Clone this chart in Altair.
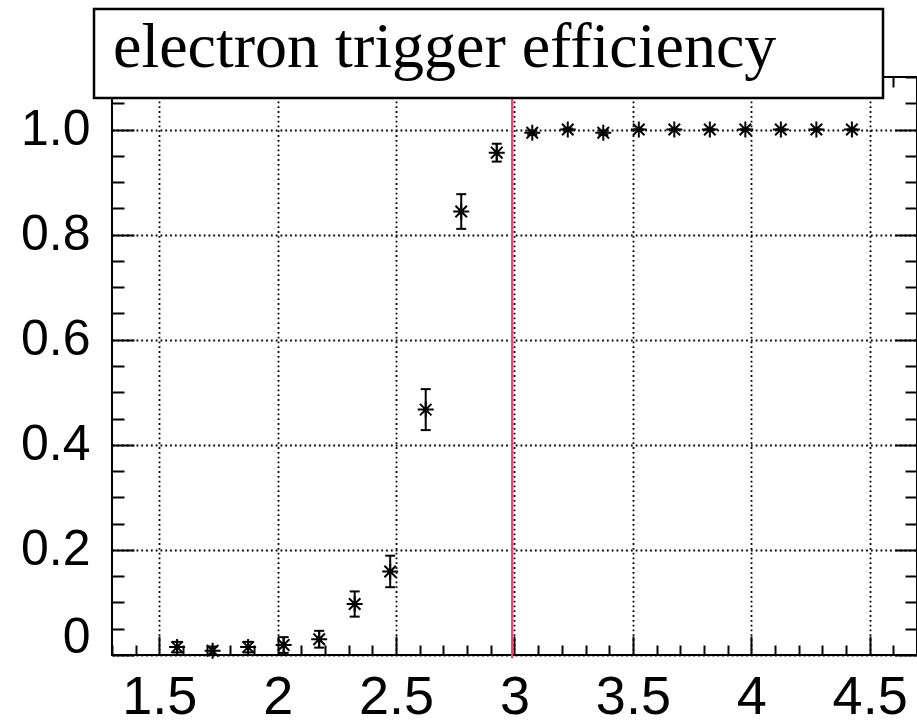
import altair as alt
import pandas as pd

# ---------------- data ----------------
title_text = "electron trigger efficiency"
x_centers = [1.575, 1.725, 1.875, 2.025, 2.175, 2.325, 2.475, 2.625, 2.775, 2.925,
             3.075, 3.225, 3.375, 3.525, 3.675, 3.825, 3.975, 4.125, 4.275, 4.425]
eff = [0.015, 0.008, 0.015, 0.019, 0.030, 0.097, 0.159, 0.467, 0.844, 0.956,
       0.994, 1.000, 0.994, 1.000, 1.000, 1.000, 1.000, 1.000, 1.000, 1.000]
eff_err = [0.010, 0.008, 0.010, 0.015, 0.016, 0.024, 0.030, 0.039, 0.033, 0.017,
           0.004, 0.002, 0.004, 0.0, 0.0, 0.0, 0.0, 0.0, 0.0, 0.0]
cut_x = [2.99]
cut_y = [-0.006, 1.1]

x_domain = [1.3, 4.7]
y_domain = [0.0, 1.1]
x_major = [1.5, 2, 2.5, 3, 3.5, 4, 4.5]
x_ticks_all = [1.3, 1.4, 1.5, 1.6, 1.7, 1.8, 1.9, 2.0, 2.1, 2.2, 2.3, 2.4, 2.5, 2.6,
               2.7, 2.8, 2.9, 3.0, 3.1, 3.2, 3.3, 3.4, 3.5, 3.6, 3.7, 3.8, 3.9, 4.0,
               4.1, 4.2, 4.3, 4.4, 4.5, 4.6, 4.7]
y_major = [0, 0.2, 0.4, 0.6, 0.8, 1.0]
y_ticks_all = [0, 0.05, 0.1, 0.15, 0.2, 0.25, 0.3, 0.35, 0.4, 0.45, 0.5, 0.55, 0.6,
               0.65, 0.7, 0.75, 0.8, 0.85, 0.9, 0.95, 1.0, 1.05, 1.1]

# ---------------- layout ----------------
W, H = 805, 578
LEFT, TOP = 112, 77
AXIS_FONT = "Liberation Sans"

df = pd.DataFrame({"x": x_centers, "y": eff, "err": eff_err})
df["lo"] = df["y"] - df["err"]
df["hi"] = df["y"] + df["err"]
cut_df = pd.DataFrame({"x": cut_x * 1, "y0": [cut_y[0]], "y1": [cut_y[1]]})
title_df = pd.DataFrame({"t": [title_text]})

xs = alt.Scale(domain=x_domain, nice=False, zero=False)
ys = alt.Scale(domain=y_domain, nice=False, zero=False)

x_tick_size = {"condition": {"test": "abs(datum.value*2 - round(datum.value*2)) < 0.0001", "value": 19}, "value": 10}
y_tick_size = {"condition": {"test": "abs(datum.value*5 - round(datum.value*5)) < 0.0001", "value": 22}, "value": 12}

# main axes: labels + dotted grid
axis_x_main = alt.Axis(orient="bottom", values=x_major, labelExpr="format(datum.value, '~g')",
                       ticks=False, domain=False, grid=True, gridDash=[1.8, 3], gridColor="black",
                       gridWidth=1.8, gridOpacity=1, labelFont=AXIS_FONT, labelFontSize=54,
                       labelColor="black", labelPadding=15, labelFlush=False)
axis_y_main = alt.Axis(orient="left", values=y_major,
                       labelExpr="datum.value == 0 ? '0' : format(datum.value, '.1f')",
                       ticks=False, domain=False, grid=True, gridDash=[1.8, 3], gridColor="black",
                       gridWidth=1.8, gridOpacity=1, labelFont=AXIS_FONT, labelFontSize=50,
                       labelColor="black", labelPadding=22, labelFlush=False,
                       labelOffset={"condition": {"test": "datum.value == 0", "value": -18}, "value": 0})
# inward ticks on bottom / left frame
axis_x_in = alt.Axis(orient="top", offset=-H, values=x_ticks_all, labels=False, domain=False,
                     grid=False, ticks=True, tickSize=x_tick_size, tickWidth=2, tickColor="black")
axis_y_in = alt.Axis(orient="right", offset=-W, values=y_ticks_all, labels=False, domain=False,
                     grid=False, ticks=True, tickSize=y_tick_size, tickWidth=2, tickColor="black")
# inward ticks on top / right frame
axis_x_top = alt.Axis(orient="bottom", offset=-H, values=x_ticks_all, labels=False, domain=False,
                      grid=False, ticks=True, tickSize=x_tick_size, tickWidth=2, tickColor="black")
axis_y_right = alt.Axis(orient="left", offset=-W, values=y_ticks_all, labels=False, domain=False,
                        grid=False, ticks=True, tickSize=y_tick_size, tickWidth=2, tickColor="black")

STAR = "M-1,0L1,0M0,-1L0,1M-0.72,-0.72L0.72,0.72M-0.72,0.72L0.72,-0.72"

base = alt.Chart(df)

stars = base.mark_point(shape=STAR, filled=False, size=256, strokeWidth=2, color="black", opacity=1).encode(
    x=alt.X("x:Q", scale=xs, title=None, axis=axis_x_main),
    y=alt.Y("y:Q", scale=ys, title=None, axis=axis_y_main),
)
dots = base.mark_point(shape="circle", filled=True, size=28, color="black", opacity=1).encode(
    x=alt.X("x:Q", scale=xs, title=None, axis=axis_x_in),
    y=alt.Y("y:Q", scale=ys, title=None, axis=axis_y_in),
)
bars = base.mark_rule(color="black", strokeWidth=2).encode(
    x=alt.X("x:Q", scale=xs, title=None, axis=axis_x_top),
    y=alt.Y("lo:Q", scale=ys, title=None, axis=axis_y_right),
    y2="hi:Q",
)
cap_lo = base.mark_tick(orient="horizontal", size=10, thickness=2, color="black", opacity=1).encode(
    x=alt.X("x:Q", scale=xs, axis=None),
    y=alt.Y("lo:Q", scale=ys, axis=None),
)
cap_hi = base.mark_tick(orient="horizontal", size=10, thickness=2, color="black", opacity=1).encode(
    x=alt.X("x:Q", scale=xs, axis=None),
    y=alt.Y("hi:Q", scale=ys, axis=None),
)
cut = alt.Chart(cut_df).mark_rule(color="#ff3a6e", strokeWidth=2.2).encode(
    x=alt.X("x:Q", scale=xs, axis=None),
    y=alt.Y("y0:Q", scale=ys, axis=None),
    y2="y1:Q",
)
box = alt.Chart(title_df).mark_rect(fill="white", stroke="black", strokeWidth=2.5).encode(
    x=alt.value(-18), x2=alt.value(771), y=alt.value(-68), y2=alt.value(21)
)
title = alt.Chart(title_df).mark_text(align="left", baseline="alphabetic", font="Liberation Serif",
                                      fontSize=64, color="black").encode(
    x=alt.value(1), y=alt.value(-10), text="t:N"
)

chart = alt.layer(stars, dots, bars, cut, cap_lo, cap_hi, box, title).resolve_axis(
    x="independent", y="independent"
).properties(
    width=W, height=H,
    padding={"left": LEFT, "top": TOP, "right": 0, "bottom": 69},
    autosize=alt.AutoSizeParams(type="none"),
    background="white",
).configure_view(stroke="black", strokeWidth=2)

chart.save("out.html", embed_options={"renderer": "svg", "actions": False})
